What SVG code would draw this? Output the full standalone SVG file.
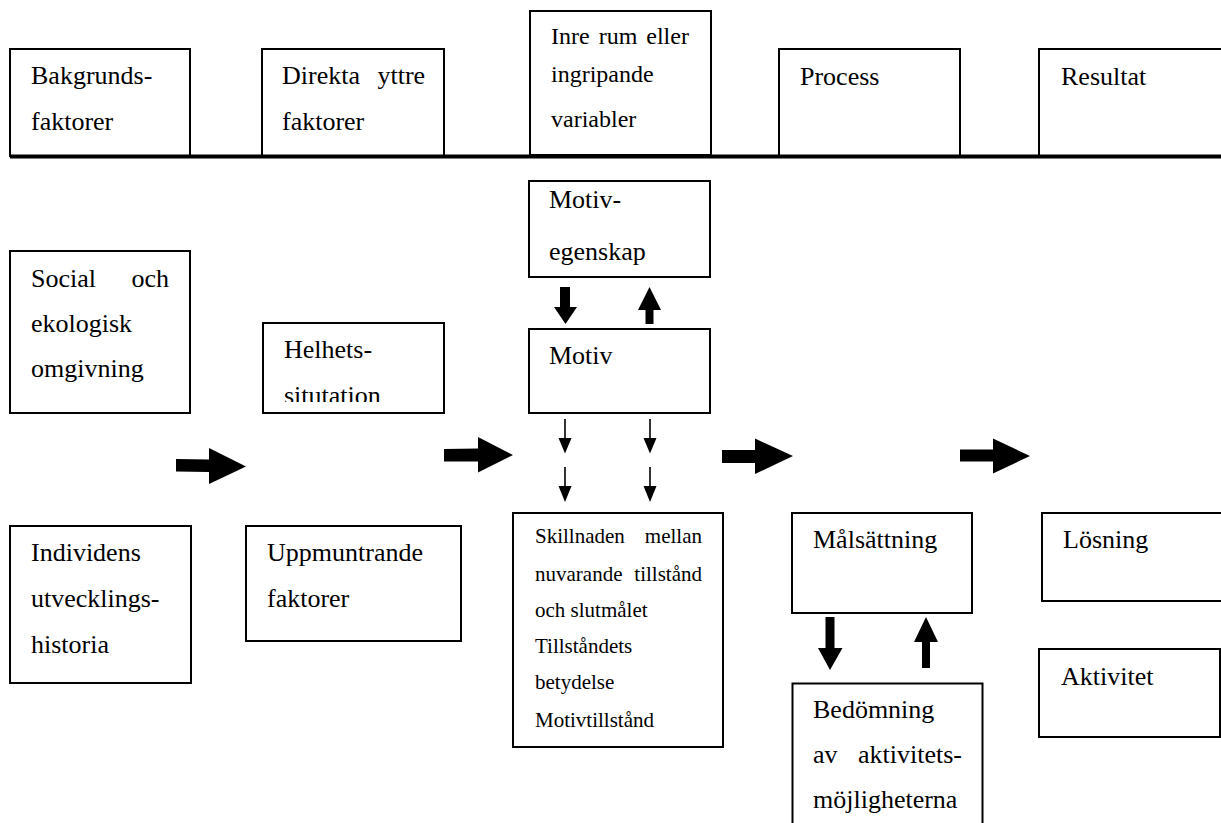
<svg xmlns="http://www.w3.org/2000/svg" width="1221" height="823" viewBox="0 0 1221 823">
<style>
.box{fill:#fff;stroke:#000;stroke-width:2}
.thin{stroke:#000;stroke-width:1.6;fill:none}
.fat{fill:#000;stroke:none}
</style>
<defs>
<clipPath id="clipH"><rect x="263" y="323" width="181" height="79"/></clipPath>
</defs>
<rect width="1221" height="823" fill="#fff"/>
<g id="n-bakgrund"><rect class="box" x="10" y="49" width="180" height="107"/>
<text font-family="Liberation Serif" font-size="26" x="31" y="84">Bakgrunds-</text><text font-family="Liberation Serif" font-size="26" x="31" y="130">faktorer</text></g>
<g id="n-direkta"><rect class="box" x="262" y="49" width="182" height="107"/>
<text font-family="Liberation Serif" font-size="26" x="282" y="84" word-spacing="11">Direkta yttre</text><text font-family="Liberation Serif" font-size="26" x="282" y="130">faktorer</text></g>
<g id="n-inre"><rect class="box" x="530" y="11" width="181" height="144"/>
<text font-family="Liberation Serif" font-size="24" x="551" y="44" word-spacing="3">Inre rum eller</text><text font-family="Liberation Serif" font-size="24" x="551" y="82">ingripande</text><text font-family="Liberation Serif" font-size="24" x="551" y="127">variabler</text></g>
<g id="n-process"><rect class="box" x="779" y="49" width="181" height="107"/>
<text font-family="Liberation Serif" font-size="26" x="800" y="85">Process</text></g>
<g id="n-resultat"><rect class="box" x="1039" y="49" width="190" height="107"/>
<text font-family="Liberation Serif" font-size="26" x="1061" y="85">Resultat</text></g>
<line x1="10" y1="156.5" x2="1221" y2="156.5" stroke="#000" stroke-width="4"/>

<g id="n-social"><rect class="box" x="10" y="251" width="180" height="162"/>
<text font-family="Liberation Serif" font-size="26" x="31" y="287">Social</text><text font-family="Liberation Serif" font-size="26" x="169" y="287" text-anchor="end">och</text>
<text font-family="Liberation Serif" font-size="26" x="31" y="332">ekologisk</text><text font-family="Liberation Serif" font-size="26" x="31" y="377">omgivning</text></g>
<g id="n-helhet"><rect class="box" x="263" y="323" width="181" height="90"/>
<g clip-path="url(#clipH)"><text font-family="Liberation Serif" font-size="26" x="284" y="358">Helhets-</text><text font-family="Liberation Serif" font-size="26" x="284" y="404">situtation</text></g></g>
<g id="n-motivegenskap"><rect class="box" x="529" y="181" width="181" height="96"/>
<text font-family="Liberation Serif" font-size="26" x="549" y="208">Motiv-</text><text font-family="Liberation Serif" font-size="26" x="549" y="260">egenskap</text></g>
<g id="n-motiv"><rect class="box" x="529" y="329" width="181" height="84"/>
<text font-family="Liberation Serif" font-size="26" x="549" y="364">Motiv</text></g>
<g id="n-individ"><rect class="box" x="10" y="526" width="181" height="157"/>
<text font-family="Liberation Serif" font-size="26" x="31" y="561">Individens</text><text font-family="Liberation Serif" font-size="26" x="31" y="607">utvecklings-</text><text font-family="Liberation Serif" font-size="26" x="31" y="653">historia</text></g>
<g id="n-uppmunt"><rect class="box" x="246" y="526" width="215" height="115"/>
<text font-family="Liberation Serif" font-size="26" x="267" y="561">Uppmuntrande</text><text font-family="Liberation Serif" font-size="26" x="267" y="607">faktorer</text></g>
<g id="n-skillnad"><rect class="box" x="513" y="513" width="210" height="234"/>
<text font-family="Liberation Serif" font-size="21" x="535" y="543">Skillnaden</text><text font-family="Liberation Serif" font-size="21" x="702" y="543" text-anchor="end">mellan</text>
<text font-family="Liberation Serif" font-size="21" x="535" y="581">nuvarande</text><text font-family="Liberation Serif" font-size="21" x="702" y="581" text-anchor="end">tillstånd</text>
<text font-family="Liberation Serif" font-size="21" x="535" y="617">och slutmålet</text>
<text font-family="Liberation Serif" font-size="21" x="535" y="653">Tillståndets</text>
<text font-family="Liberation Serif" font-size="21" x="535" y="689">betydelse</text>
<text font-family="Liberation Serif" font-size="21" x="535" y="727">Motivtillstånd</text></g>
<g id="n-malsattning"><rect class="box" x="792" y="513" width="180" height="100"/>
<text font-family="Liberation Serif" font-size="26" x="813" y="548">Målsättning</text></g>
<g id="n-bedomning"><rect class="box" x="792.5" y="683.5" width="190" height="150"/>
<text font-family="Liberation Serif" font-size="26" x="813" y="718">Bedömning</text>
<text font-family="Liberation Serif" font-size="26" x="813" y="763">av</text><text font-family="Liberation Serif" font-size="26" x="962" y="763" text-anchor="end">aktivitets-</text>
<text font-family="Liberation Serif" font-size="26" x="813" y="808">möjligheterna</text></g>
<g id="n-losning"><rect class="box" x="1042" y="513" width="190" height="88"/>
<text font-family="Liberation Serif" font-size="26" x="1063" y="548">Lösning</text></g>
<g id="n-aktivitet"><rect class="box" x="1039" y="649" width="181" height="88"/>
<text font-family="Liberation Serif" font-size="26" x="1061" y="685">Aktivitet</text></g>
<g id="connectors">
<polygon class="fat" points="176,459 209,459.5 209,448 246,466.5 209,484 209,472 176,471.5"/>
<polygon class="fat" points="444,449 478,448.5 478,437 513,455 478,472.5 478,461.5 444,461.5"/>
<polygon class="fat" points="722,450 755,450 755,438.5 793,456 755,474 755,463 722,463"/>
<polygon class="fat" points="960,449.5 993,449.5 993,438.5 1030,456 993,473.5 993,461.5 960,461.5"/>
<polygon class="fat" points="560,287 570,287 570,307 577,307 565.5,324 554,307 560,307"/>
<polygon class="fat" points="645.5,324 653.5,324 653.5,310 661,310 649.5,287 638,310 645.5,310"/>
<polygon class="fat" points="825.5,617 834.5,617 834.5,648 842.5,648 830,670 818,648 825.5,648"/>
<polygon class="fat" points="922,668 930,668 930,642 938,642 926,617 914,642 922,642"/>
<line class="thin" x1="565" y1="419" x2="565" y2="440"/><polygon class="fat" points="558.5,438 571.5,438 565,453.5"/>
<line class="thin" x1="565" y1="467" x2="565" y2="488"/><polygon class="fat" points="558.5,486 571.5,486 565,502"/>
<line class="thin" x1="650" y1="419" x2="650" y2="440"/><polygon class="fat" points="643.5,438 656.5,438 650,453.5"/>
<line class="thin" x1="650" y1="467" x2="650" y2="488"/><polygon class="fat" points="643.5,486 656.5,486 650,502"/>
</g>
</svg>
